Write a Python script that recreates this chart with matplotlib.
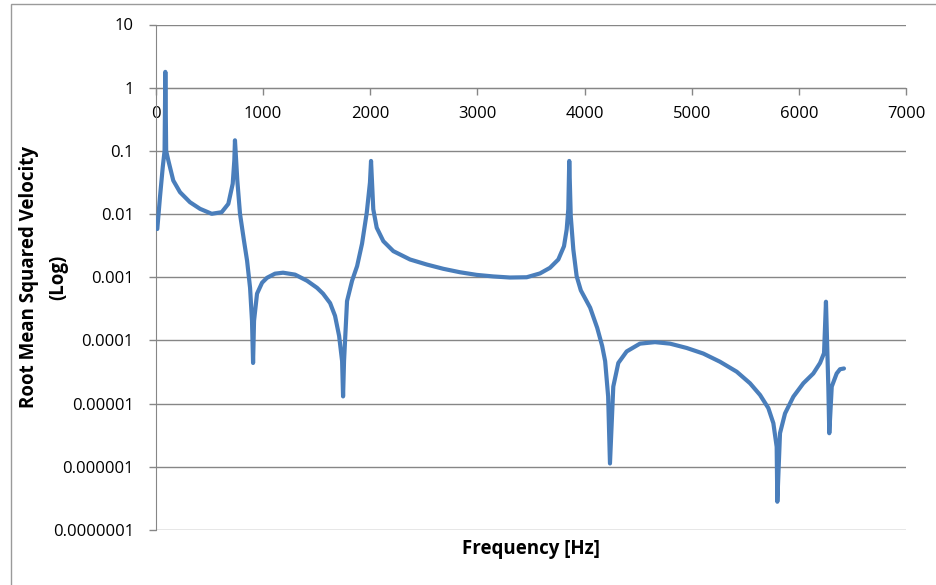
import matplotlib
matplotlib.use("Agg")
import matplotlib.pyplot as plt
from matplotlib.patches import Rectangle
from matplotlib.ticker import FixedLocator, FixedFormatter

# Data
freq_hz = [12, 37, 63, 80, 87, 95, 115, 161, 224, 317, 411, 520, 613, 675, 716, 731,
           737, 759, 784, 821, 850, 878, 896, 906, 915, 943, 990, 1036, 1111, 1186,
           1298, 1410, 1503, 1559, 1625, 1671, 1709, 1737, 1746, 1755, 1783, 1830,
           1877, 1923, 1967, 1997, 2007, 2028, 2060, 2122, 2215, 2371, 2527, 2682,
           2837, 2993, 3148, 3304, 3460, 3584, 3677, 3755, 3808, 3833, 3848, 3857,
           3871, 3895, 3926, 3965, 4052, 4118, 4164, 4192, 4220, 4237, 4268, 4315,
           4393, 4517, 4657, 4797, 4953, 5108, 5264, 5420, 5544, 5638, 5715, 5762,
           5793, 5799, 5824, 5871, 5949, 6042, 6135, 6198, 6235, 6253, 6275, 6284,
           6307, 6353, 6384, 6421]
rms_velocity = [5.8e-3, 0.0185, 0.0553, 0.1, 1.78, 0.1, 0.0707, 0.034, 0.0222, 0.0154,
                0.0121, 0.0101, 0.0107, 0.0145, 0.0302, 0.0707,
                0.147, 0.034, 0.0101, 3.8e-3, 1.83e-3, 6.8e-4, 2.04e-4, 4.4e-5,
                2.04e-4, 5.5e-4, 8.2e-4, 9.8e-4, 1.14e-3, 1.18e-3,
                1.1e-3, 8.8e-4, 6.8e-4, 5.5e-4, 3.9e-4, 2.45e-4, 1.18e-4, 4.7e-5,
                1.3e-5, 4.7e-5, 4.2e-4, 8.8e-4,
                1.5e-3, 3.4e-3, 0.0105, 0.0316, 0.0693, 0.0119, 6.08e-3, 3.72e-3,
                2.59e-3, 1.91e-3, 1.59e-3, 1.36e-3,
                1.2e-3, 1.09e-3, 1.03e-3, 9.9e-4, 1.0e-3, 1.15e-3, 1.41e-3, 1.91e-3,
                3.1e-3, 5.7e-3, 0.0119, 0.0693,
                9.3e-3, 2.75e-3, 1.04e-3, 6.2e-4, 3.3e-4, 1.58e-4, 8.2e-5, 4.7e-5,
                1.3e-5, 1.13e-6, 1.86e-5, 4.4e-5,
                6.7e-5, 8.9e-5, 9.4e-5, 8.9e-5, 7.6e-5, 6.2e-5, 4.6e-5, 3.2e-5,
                2.1e-5, 1.37e-5, 8.5e-6, 4.9e-6,
                2.07e-6, 2.8e-7, 3.4e-6, 7.0e-6, 1.29e-5, 2.1e-5, 3.0e-5, 4.4e-5,
                6.3e-5, 4.1e-4, 1.86e-5, 3.4e-6,
                1.86e-5, 3.0e-5, 3.5e-5, 3.6e-5]

y_ticks = [1e1, 1e0, 1e-1, 1e-2, 1e-3, 1e-4, 1e-5, 1e-6, 1e-7]
y_tick_labels = ["10", "1", "0.1", "0.01", "0.001", "0.0001", "0.00001",
                 "0.000001", "0.0000001"]
x_ticks = [0, 1000, 2000, 3000, 4000, 5000, 6000, 7000]
x_tick_labels = ["0", "1000", "2000", "3000", "4000", "5000", "6000", "7000"]

plt.rcParams['font.family'] = ['Open Sans', 'DejaVu Sans']

grid_color = '#868686'
line_color = '#4A7EBB'

fig = plt.figure(figsize=(9.37, 5.85), dpi=100)
ax = fig.add_axes([156/937, 1-530/585, (906-156)/937, (530-24.5)/585])

ax.plot(freq_hz, rms_velocity, color=line_color, lw=3.0, solid_joinstyle='round',
        solid_capstyle='round', zorder=3)

ax.set_yscale('log')
ax.set_ylim(1e-7, 10)
ax.set_xlim(0, 7000)

ax.yaxis.set_major_locator(FixedLocator(y_ticks))
ax.yaxis.set_major_formatter(FixedFormatter(y_tick_labels))
ax.yaxis.set_minor_locator(FixedLocator([]))
ax.xaxis.set_major_locator(FixedLocator(x_ticks))
ax.xaxis.set_major_formatter(FixedFormatter(x_tick_labels))

for yv in y_ticks:
    ax.axhline(yv, color=grid_color, lw=1.0, zorder=1)

ax.spines['top'].set_visible(False)
ax.spines['right'].set_visible(False)
ax.spines['bottom'].set_position(('data', 1))
ax.spines['bottom'].set_color(grid_color)
ax.spines['left'].set_color(grid_color)
ax.spines['bottom'].set_zorder(1)

ax.tick_params(axis='both', colors=grid_color, labelcolor='black', length=5,
               width=1.0, direction='out', labelsize=12)
ax.tick_params(axis='x', pad=8)
ax.tick_params(axis='y', pad=11)

ax.set_xlabel("Frequency [Hz]", fontsize=13.5, fontweight='bold')
ax.xaxis.set_label_coords(0.5, -0.018)
ax.set_ylabel("Root Mean Squared Velocity\n(Log)", fontsize=13.5, fontweight='bold',
              linespacing=1.6)
ax.yaxis.set_label_coords(-0.117, 0.5)

fig.patches.append(Rectangle((11/937, -0.1), 2.0, 1.1 - 4/585, transform=fig.transFigure,
                             fill=False, edgecolor='#9a9a9a', lw=1.0))

fig.savefig("out.png", dpi=100)
